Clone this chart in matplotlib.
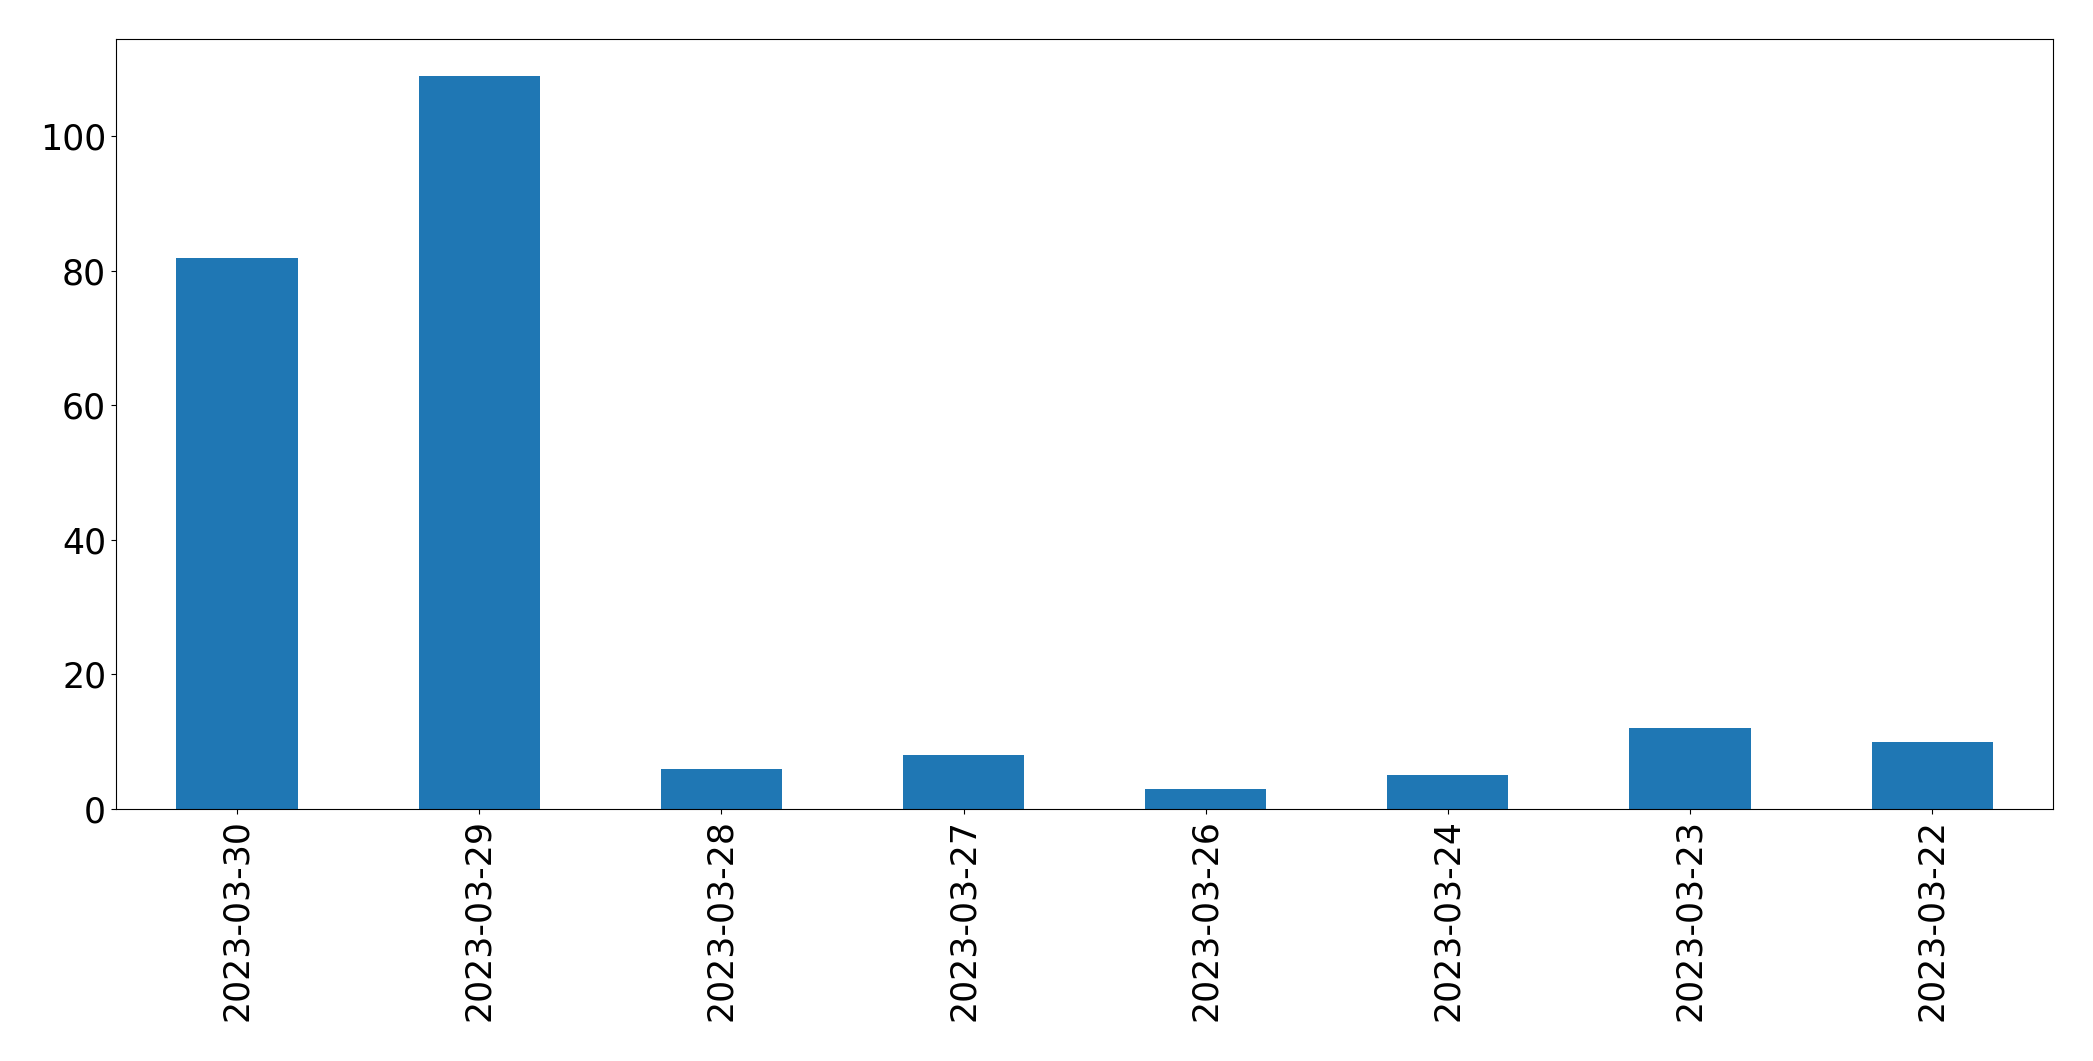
import pandas as pd
import matplotlib
matplotlib.use('Agg')
import matplotlib.pyplot as plt

dates = ['2023-03-30', '2023-03-29', '2023-03-28', '2023-03-27',
         '2023-03-26', '2023-03-24', '2023-03-23', '2023-03-22']
counts = [82, 109, 6, 8, 3, 5, 12, 10]

s = pd.Series(counts, index=dates)

fig, ax = plt.subplots(figsize=(20.93, 10.61), dpi=100)
s.plot(kind='bar', ax=ax, color='#1f77b4', fontsize=25)
ax.set_xlabel('')
plt.subplots_adjust(left=0.0554, right=0.981, top=0.963, bottom=0.2375)

plt.savefig('out.png', dpi=100)
